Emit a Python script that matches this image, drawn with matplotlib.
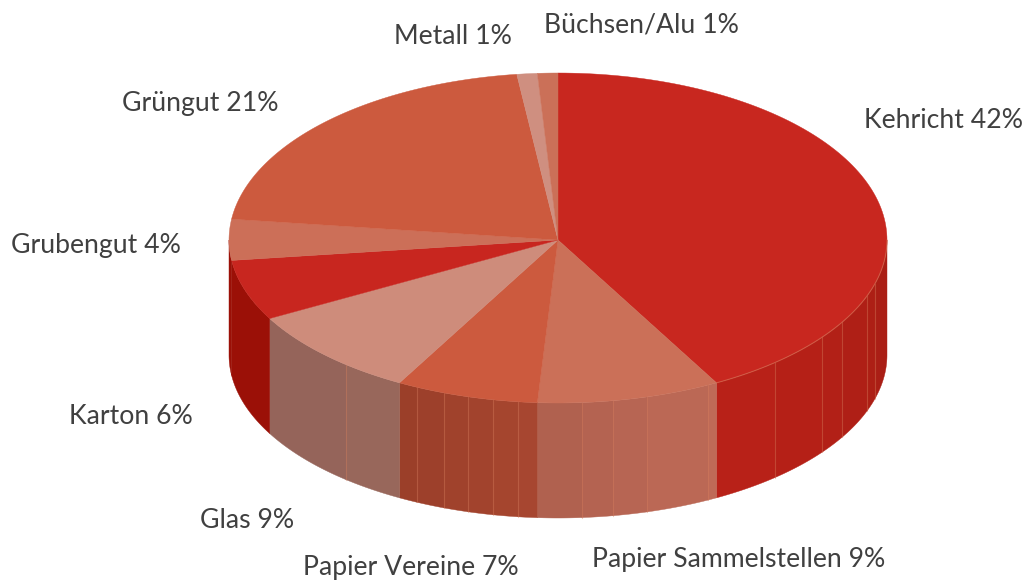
import matplotlib
matplotlib.use('Agg')
import matplotlib.pyplot as plt
import numpy as np

labels = ['Kehricht', 'Papier Sammelstellen', 'Papier Vereine', 'Glas', 'Karton',
          'Grubengut', 'Grüngut', 'Metall', 'Büchsen/Alu']
values = [42, 9, 7, 9, 6, 4, 21, 1, 1]

top_colors = ['#C8271F', '#CB7058', '#CC5A3E', '#CE8C7B', '#C8261F',
              '#CC6F58', '#CC5A3E', '#CF8F80', '#CB7058']
# side colour at the start and the end of the visible part of each slice (clockwise)
side_start = ['#A81E14', '#BF6A57', '#A84730', '#99685B', '#960F07',
              '#960F07', '#9A3A24', '#99685B', '#BF6A57']
side_end = ['#BA2119', '#AE604E', '#9A3E29', '#93625A', '#A01208',
            '#A01208', '#9A3A24', '#99685B', '#BF6A57']

# label centres in pixels
label_pos = [(943, 121), (739, 559), (411, 567), (247, 520), (131, 416),
             (96, 246), (200, 103), (453, 36), (641, 25)]

# facet edges seen on the rim, in pixels
facet_x = [775, 822, 842, 867, 875, 708, 647, 613, 582, 518, 493, 468, 444, 417, 346]

cx, cy = 558, 240
rx = 329
ry_back, ry_front = 167, 163
depth = 115

plt.rcParams['font.family'] = ['Lato', 'DejaVu Sans']

fig = plt.figure(figsize=(10.29, 5.88), dpi=100)
ax = fig.add_axes([0, 0, 1, 1])
ax.set_xlim(0, 1029)
ax.set_ylim(588, 0)
ax.axis('off')


def rim(t):
    """t in degrees, clockwise from the top of the ellipse."""
    t = np.radians(t)
    c = np.cos(t)
    return cx + rx * np.sin(t), cy - np.where(c > 0, ry_back, ry_front) * c


def angle_from_x(x):
    return 180 - np.degrees(np.arcsin((x - cx) / rx))


def blend(c1, c2, f):
    a = np.array(matplotlib.colors.to_rgb(c1))
    b = np.array(matplotlib.colors.to_rgb(c2))
    return a + (b - a) * f


edges = np.concatenate([[0], np.cumsum(values)]) / sum(values) * 360
facets = sorted(angle_from_x(x) for x in facet_x)

# rim first, only the part facing the viewer
for i in range(len(values)):
    t0, t1 = max(edges[i], 90), min(edges[i + 1], 270)
    if t1 <= t0:
        continue
    cuts = [t0] + [f for f in facets if t0 < f < t1] + [t1]
    for a, b in zip(cuts[:-1], cuts[1:]):
        tt = np.linspace(a, b, 40)
        x, y = rim(tt)
        xs = np.concatenate([x, x[::-1]])
        ys = np.concatenate([y, y[::-1] + depth])
        frac = ((a + b) / 2 - t0) / (t1 - t0)
        col = blend(side_start[i], side_end[i], frac)
        ax.fill(xs, ys, color=col, lw=0.3, zorder=2)
        if a != t0:
            ax.plot([x[0], x[0]], [y[0], y[0] + depth], color='#D8805F',
                    lw=0.8, alpha=0.4, zorder=3)

# top face
for i in range(len(values)):
    tt = np.linspace(edges[i], edges[i + 1], 120)
    x, y = rim(tt)
    ax.fill(np.concatenate([[cx], x]), np.concatenate([[cy], y]),
            color=top_colors[i], lw=0.3, zorder=4)

# thin light edge where the top meets the red rim
tt = np.linspace(90, edges[1], 120)
x, y = rim(tt)
ax.plot(x, y, color='#D8805F', lw=0.8, alpha=0.5, zorder=4.5)

for name, val, (lx, ly) in zip(labels, values, label_pos):
    ax.text(lx, ly, f'{name} {val}%', ha='center', va='center',
            fontsize=19.2, color='#404040', zorder=5)

fig.savefig('out.png', dpi=100)
